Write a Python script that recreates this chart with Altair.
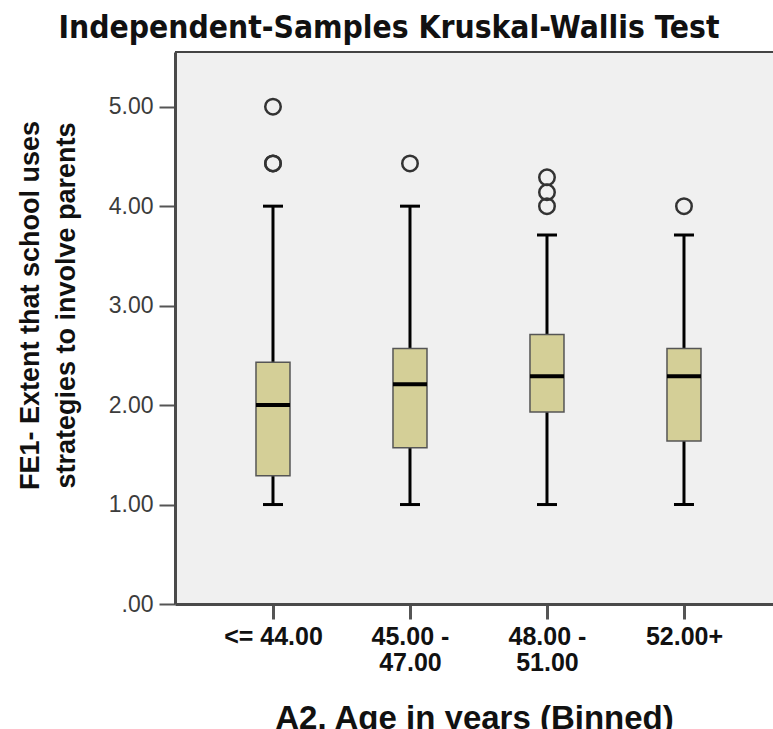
import altair as alt
import pandas as pd

# Age bins (x categories); "\n" splits a label onto two lines
groups = ["<= 44.00", "45.00 -\n47.00", "48.00 -\n51.00", "52.00+"]

# Box-plot summary per age bin
whisker_low = [1.00, 1.00, 1.00, 1.00]
q1 = [1.29, 1.57, 1.93, 1.64]
median = [2.00, 2.21, 2.29, 2.29]
q3 = [2.43, 2.57, 2.71, 2.57]
whisker_high = [4.00, 4.00, 3.71, 3.71]

# Outliers beyond the whiskers
outlier_groups = [groups[0], groups[0], groups[0], groups[1],
                  groups[2], groups[2], groups[2], groups[3]]
outlier_values = [5.00, 4.43, 4.43, 4.43, 4.29, 4.14, 4.00, 4.00]

y_ticks = [0, 1, 2, 3, 4, 5]

stats = pd.DataFrame({
    "group": groups, "lo": whisker_low, "q1": q1,
    "med": median, "q3": q3, "hi": whisker_high,
})
outliers = pd.DataFrame({"group": outlier_groups, "value": outlier_values})

BOX_FILL = "#d4cf97"
FRAME = "#4a4a4a"

x_enc = alt.X(
    "group:N",
    sort=groups,
    scale=alt.Scale(type="point", padding=0.6825, align=0.524),
    title="A2. Age in years (Binned)",
    axis=alt.Axis(
        labelExpr="split(datum.label, '\\n')",
        labelFont="Liberation Sans", labelFontSize=25, labelFontWeight="bold",
        labelColor="#111111", labelPadding=5, labelLineHeight=26,
        labelAngle=0,
        tickSize=15, tickWidth=3, tickColor="#555555",
        domainColor=FRAME, domainWidth=3,
        titleFont="Liberation Sans", titleFontSize=33, titleFontWeight="bold",
        titleColor="#111111", titleBaseline="alphabetic", titleY=124,
    ),
)

y_scale = alt.Scale(domain=[0, 5.55], nice=False, zero=True)
y_axis = alt.Axis(
    values=y_ticks,
    labelExpr="datum.value == 0 ? '.00' : format(datum.value, '.2f')",
    labelFont="Liberation Sans", labelFontSize=23, labelColor="#3c3c3c",
    labelPadding=6, tickSize=16, tickWidth=2, tickColor="#555555",
    domainColor=FRAME, domainWidth=3, grid=False,
    titleFont="Liberation Sans", titleFontSize=27, titleFontWeight="bold",
    titleColor="#111111", titleAngle=270, titleAlign="center",
    titleBaseline="alphabetic", titleLineHeight=36,
    titleX=-137, titleY=253,
)

base = alt.Chart(stats).encode(x=x_enc)

lower_whisker = base.mark_rule(color="black", strokeWidth=3).encode(
    y=alt.Y("lo:Q", scale=y_scale, axis=y_axis,
            title=["FE1- Extent that school uses",
                   "strategies to involve parents"]),
    y2="q1:Q",
)
upper_whisker = base.mark_rule(color="black", strokeWidth=3).encode(
    y=alt.Y("q3:Q", scale=y_scale), y2="hi:Q",
)
low_cap = base.mark_tick(color="black", size=20, thickness=3, opacity=1).encode(
    y=alt.Y("lo:Q", scale=y_scale)
)
high_cap = base.mark_tick(color="black", size=20, thickness=3, opacity=1).encode(
    y=alt.Y("hi:Q", scale=y_scale)
)
box = base.mark_bar(size=34, fill=BOX_FILL, stroke="#555555", strokeWidth=1.5).encode(
    y=alt.Y("q1:Q", scale=y_scale), y2="q3:Q",
)
mid = base.mark_tick(color="black", size=34, thickness=4, opacity=1).encode(
    y=alt.Y("med:Q", scale=y_scale)
)
points = alt.Chart(outliers).mark_point(
    shape="circle", filled=False, size=240, strokeWidth=2.5,
    color="#333333", opacity=1,
).encode(
    x=x_enc,
    y=alt.Y("value:Q", scale=y_scale),
)

# top edge of the plot frame (right side runs off the page)
top_edge = alt.Chart(stats).mark_rule(color="#444444", strokeWidth=2).encode(
    x=alt.value(0), x2=alt.value(598), y=alt.value(0)
)

chart = alt.layer(
    lower_whisker, upper_whisker, low_cap, high_cap, box, mid, points, top_edge
).properties(
    width=598,
    height=552,
    autosize=alt.AutoSizeParams(type="none"),
    padding={"left": 175, "top": 52, "right": 0, "bottom": 125},
    background="white",
    title=alt.TitleParams(
        "Independent-Samples Kruskal-Wallis Test",
        font="DejaVu Sans Condensed, Liberation Sans, sans-serif",
        fontSize=31.5, fontWeight="bold",
        color="#111111", anchor="middle", frame="group",
        baseline="alphabetic", offset=14, dx=-85, dy=32,
    ),
).configure_view(
    fill="#f0f0f0", stroke=None,
)

chart.save("out.html", embed_options={"renderer": "svg", "actions": False})
